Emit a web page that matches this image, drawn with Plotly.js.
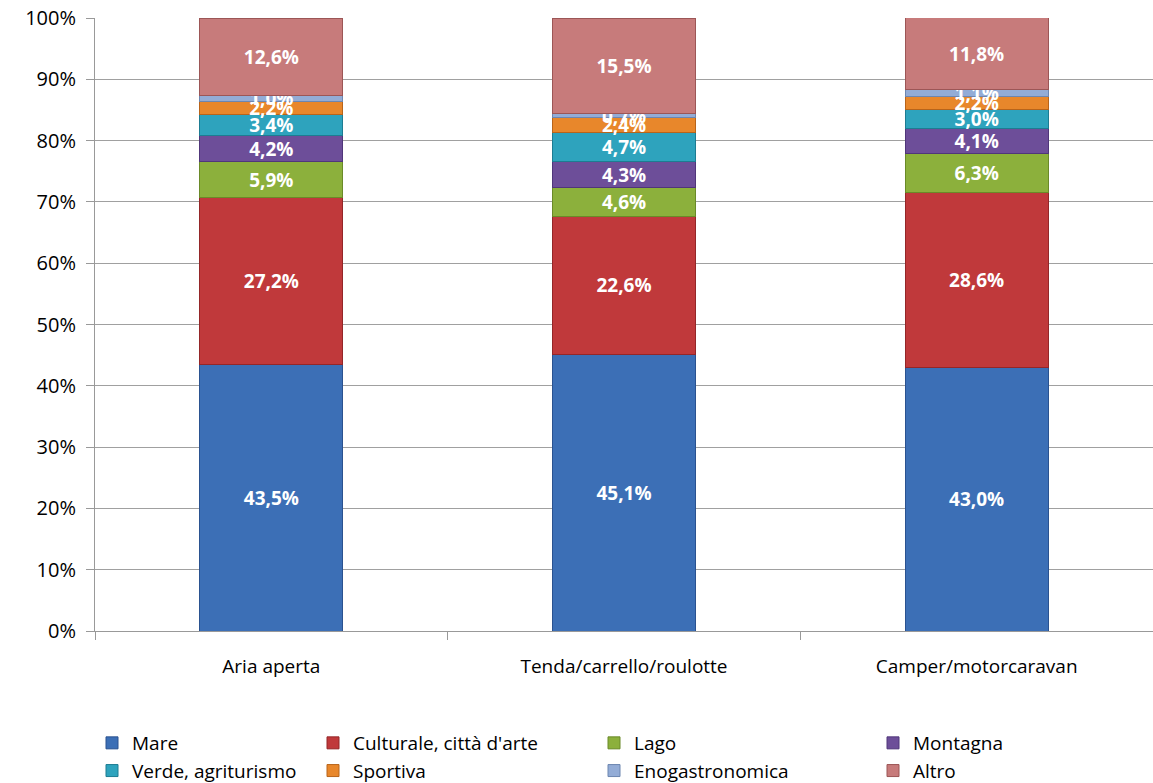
<!DOCTYPE html>
<html>
<head>
<meta charset="utf-8">
<script src="https://cdn.plot.ly/plotly-3.0.1.min.js"></script>
<style>html,body{margin:0;padding:0;background:#fff;}#chart{width:1153px;height:783px;}</style>
</head>
<body>
<div id="chart"></div>
<script>
const categories = ["Aria aperta", "Tenda/carrello/roulotte", "Camper/motorcaravan"];
const seriesNames = ["Mare", "Culturale, città d'arte", "Lago", "Montagna", "Verde, agriturismo", "Sportiva", "Enogastronomica", "Altro"];
const mare = [43.5, 45.1, 43.0];
const culturale = [27.2, 22.6, 28.6];
const lago = [5.9, 4.6, 6.3];
const montagna = [4.2, 4.3, 4.1];
const verde = [3.4, 4.7, 3.0];
const sportiva = [2.2, 2.4, 2.2];
const enogastronomica = [1.0, 0.7, 1.1];
const altro = [12.6, 15.5, 11.8];
const yTickVals = [0, 10, 20, 30, 40, 50, 60, 70, 80, 90, 100];

const seriesValues = [mare, culturale, lago, montagna, verde, sportiva, enogastronomica, altro];
const colors = ["#3c6fb6", "#c0393b", "#8cb03c", "#6d4e99", "#2ea3bd", "#e8872b", "#93acd6", "#c77b7b"];
const lineColors = ["#2a5290", "#942628", "#6a8a28", "#50367a", "#1d7c92", "#b8641a", "#6d86b0", "#9c5656"];
const legendIds = ["legend", "legend2", "legend3", "legend4", "legend", "legend2", "legend3", "legend4"];

const FONT = '"Open Sans", "Noto Sans", sans-serif';

const traces = seriesValues.map((vals, i) => ({
  type: 'bar',
  name: seriesNames[i],
  x: categories,
  y: vals,
  legend: legendIds[i],
  legendgroup: 'g' + i,
  text: vals.map(v => v.toFixed(1).replace('.', ',') + '%'),
  textposition: 'inside',
  insidetextanchor: 'middle',
  constraintext: 'none',
  textangle: 0,
  textfont: {family: FONT, size: 19, color: '#ffffff', weight: 'bold'},
  marker: {color: colors[i], line: {color: lineColors[i], width: 1}},
  hoverinfo: 'name+y'
}));

function mkLegend(xpx) {
  return {
    orientation: 'v',
    xref: 'container',
    yref: 'container',
    x: xpx / 1153,
    xanchor: 'left',
    y: 1 - 724 / 783,
    yanchor: 'top',
    traceorder: 'grouped',
    tracegroupgap: 0,
    font: {family: FONT, size: 19, color: '#000'},
    itemwidth: 30,
    bgcolor: 'rgba(0,0,0,0)'
  };
}

const layout = {
  width: 1153,
  height: 783,
  barmode: 'stack',
  bargap: 0.595,
  margin: {l: 95, r: 0, t: 18, b: 152, autoexpand: false},
  paper_bgcolor: '#ffffff',
  plot_bgcolor: '#ffffff',
  font: {family: FONT, size: 19, color: '#000000'},
  xaxis: {
    type: 'category',
    showline: true,
    linecolor: '#999999',
    linewidth: 1,
    ticks: 'outside',
    tickson: 'boundaries',
    ticklen: 8,
    tickcolor: '#999999',
    showgrid: false,
    tickfont: {size: 19},
    ticklabelstandoff: 18,
    zeroline: false
  },
  yaxis: {
    range: [0, 100],
    tickvals: yTickVals,
    ticktext: yTickVals.map(v => v + '%'),
    showline: true,
    linecolor: '#999999',
    linewidth: 1,
    ticks: 'outside',
    ticklen: 8,
    tickcolor: '#999999',
    showgrid: true,
    gridcolor: '#a0a0a0',
    gridwidth: 1,
    zeroline: false,
    ticklabelstandoff: 6,
    tickfont: {size: 20}
  },
  legend: mkLegend(92),
  legend2: mkLegend(313),
  legend3: mkLegend(594),
  legend4: mkLegend(873),
  showlegend: true
};

Plotly.newPlot('chart', traces, layout, {displayModeBar: false, staticPlot: true});
</script>
</body>
</html>
